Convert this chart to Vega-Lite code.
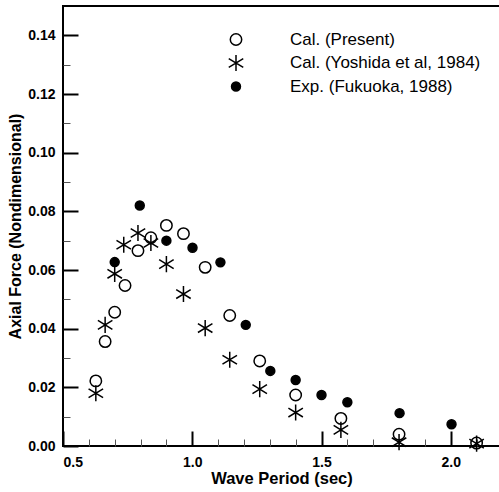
{
  "$schema": "https://vega.github.io/schema/vega-lite/v6.json",
  "width": 437,
  "height": 440,
  "autosize": {"type": "none"},
  "padding": {"left": 63, "top": 6, "right": 0, "bottom": 46},
  "config": {
    "view": {"stroke": "black", "strokeWidth": 2},
    "axis": {"grid": false, "labelFont": "Liberation Sans", "labelFontWeight": "bold", "labelFontSize": 14, "labelColor": "black", "titleFont": "Liberation Sans", "titleFontWeight": "bold", "titleColor": "black", "domainColor": "black", "tickColor": "black"}
  },
  "data": {"values": [
    {"series": "Cal. (Present)", "T": 0.627, "F": 0.0222},
    {"series": "Cal. (Present)", "T": 0.663, "F": 0.0356},
    {"series": "Cal. (Present)", "T": 0.700, "F": 0.0456},
    {"series": "Cal. (Present)", "T": 0.740, "F": 0.0547},
    {"series": "Cal. (Present)", "T": 0.790, "F": 0.0666},
    {"series": "Cal. (Present)", "T": 0.840, "F": 0.0710},
    {"series": "Cal. (Present)", "T": 0.900, "F": 0.0752},
    {"series": "Cal. (Present)", "T": 0.966, "F": 0.0724},
    {"series": "Cal. (Present)", "T": 1.050, "F": 0.0609},
    {"series": "Cal. (Present)", "T": 1.145, "F": 0.0445},
    {"series": "Cal. (Present)", "T": 1.261, "F": 0.0290},
    {"series": "Cal. (Present)", "T": 1.400, "F": 0.0174},
    {"series": "Cal. (Present)", "T": 1.575, "F": 0.0094},
    {"series": "Cal. (Present)", "T": 1.800, "F": 0.0040},
    {"series": "Cal. (Present)", "T": 2.100, "F": 0.0010},
    {"series": "Cal. (Yoshida et al, 1984)", "T": 0.627, "F": 0.0180},
    {"series": "Cal. (Yoshida et al, 1984)", "T": 0.663, "F": 0.0413},
    {"series": "Cal. (Yoshida et al, 1984)", "T": 0.700, "F": 0.0587},
    {"series": "Cal. (Yoshida et al, 1984)", "T": 0.735, "F": 0.0686},
    {"series": "Cal. (Yoshida et al, 1984)", "T": 0.790, "F": 0.0726},
    {"series": "Cal. (Yoshida et al, 1984)", "T": 0.840, "F": 0.0692},
    {"series": "Cal. (Yoshida et al, 1984)", "T": 0.900, "F": 0.0620},
    {"series": "Cal. (Yoshida et al, 1984)", "T": 0.966, "F": 0.0518},
    {"series": "Cal. (Yoshida et al, 1984)", "T": 1.050, "F": 0.0402},
    {"series": "Cal. (Yoshida et al, 1984)", "T": 1.145, "F": 0.0294},
    {"series": "Cal. (Yoshida et al, 1984)", "T": 1.261, "F": 0.0194},
    {"series": "Cal. (Yoshida et al, 1984)", "T": 1.400, "F": 0.0114},
    {"series": "Cal. (Yoshida et al, 1984)", "T": 1.575, "F": 0.0055},
    {"series": "Cal. (Yoshida et al, 1984)", "T": 1.800, "F": 0.0013},
    {"series": "Cal. (Yoshida et al, 1984)", "T": 2.100, "F": 0.0008},
    {"series": "Exp. (Fukuoka, 1988)", "T": 0.700, "F": 0.0627},
    {"series": "Exp. (Fukuoka, 1988)", "T": 0.797, "F": 0.0820},
    {"series": "Exp. (Fukuoka, 1988)", "T": 0.900, "F": 0.0700},
    {"series": "Exp. (Fukuoka, 1988)", "T": 1.001, "F": 0.0676},
    {"series": "Exp. (Fukuoka, 1988)", "T": 1.109, "F": 0.0626},
    {"series": "Exp. (Fukuoka, 1988)", "T": 1.207, "F": 0.0413},
    {"series": "Exp. (Fukuoka, 1988)", "T": 1.302, "F": 0.0256},
    {"series": "Exp. (Fukuoka, 1988)", "T": 1.400, "F": 0.0225},
    {"series": "Exp. (Fukuoka, 1988)", "T": 1.500, "F": 0.0174},
    {"series": "Exp. (Fukuoka, 1988)", "T": 1.600, "F": 0.0149},
    {"series": "Exp. (Fukuoka, 1988)", "T": 1.802, "F": 0.0112},
    {"series": "Exp. (Fukuoka, 1988)", "T": 2.003, "F": 0.0074}
  ]},
  "resolve": {"scale": {"x": "independent", "y": "independent"}, "axis": {"x": "independent", "y": "independent"}},
  "layer": [
    {
      "mark": {"type": "point", "opacity": 0},
      "encoding": {
        "x": {"field": "T", "type": "quantitative", "scale": {"domain": [0.5, 2.1905], "nice": false, "zero": false},
          "axis": {"orient": "bottom", "offset": -7, "values": [0.6, 0.7, 0.8, 0.9, 1.1, 1.2, 1.3, 1.4, 1.6, 1.7, 1.8, 1.9, 2.1], "ticks": true, "labels": false, "domain": false, "tickSize": 7, "tickWidth": 1, "tickColor": "#555555", "title": null}},
        "y": {"field": "F", "type": "quantitative", "scale": {"domain": [0, 0.15], "nice": false},
          "axis": {"orient": "left", "offset": -7, "values": [0.01, 0.03, 0.05, 0.07, 0.09, 0.11, 0.13], "ticks": true, "labels": false, "domain": false, "tickSize": 7, "tickWidth": 1, "tickColor": "#555555", "title": null}}
      }
    },
    {
      "mark": {"type": "point", "filled": true, "stroke": "black", "strokeWidth": 1.5, "opacity": 1},
      "encoding": {
        "x": {"field": "T", "type": "quantitative", "scale": {"domain": [0.5, 2.1905], "nice": false, "zero": false},
          "axis": {"orient": "bottom", "offset": -15, "values": [0.5, 1.0, 1.5, 2.0], "format": ".1f", "tickSize": 15, "tickWidth": 2, "domain": false, "labelPadding": 9, "title": "Wave Period (sec)", "titleFontSize": 16.5, "titlePadding": 1}},
        "y": {"field": "F", "type": "quantitative", "scale": {"domain": [0, 0.15], "nice": false},
          "axis": {"orient": "left", "offset": -15, "values": [0, 0.02, 0.04, 0.06, 0.08, 0.1, 0.12, 0.14], "format": ".2f", "tickSize": 15, "tickWidth": 2, "domain": false, "labelPadding": 8, "title": "Axial Force (Nondimensional)", "titleFontSize": 16, "titlePadding": 4}},
        "shape": {"field": "series", "type": "nominal", "sort": null,
          "scale": {"domain": ["Cal. (Present)", "Cal. (Yoshida et al, 1984)", "Exp. (Fukuoka, 1988)"], "range": ["circle", "M0,-1L0,1M-0.9,-0.55L0.9,0.55M-0.9,0.55L0.9,-0.55", "circle"]},
          "legend": {"orient": "none", "legendX": 164, "legendY": 25, "title": null, "labelFont": "Liberation Sans", "labelFontSize": 17, "labelColor": "black", "labelLimit": 400, "labelOffset": 45, "rowPadding": 2, "symbolStrokeColor": "black", "symbolStrokeWidth": 1.5}},
        "fill": {"field": "series", "type": "nominal", "sort": null,
          "scale": {"domain": ["Cal. (Present)", "Cal. (Yoshida et al, 1984)", "Exp. (Fukuoka, 1988)"], "range": ["transparent", "transparent", "black"]}},
        "size": {"field": "series", "type": "nominal", "sort": null,
          "scale": {"type": "ordinal", "domain": ["Cal. (Present)", "Cal. (Yoshida et al, 1984)", "Exp. (Fukuoka, 1988)"], "range": [130, 260, 80]}}
      }
    }
  ]
}
